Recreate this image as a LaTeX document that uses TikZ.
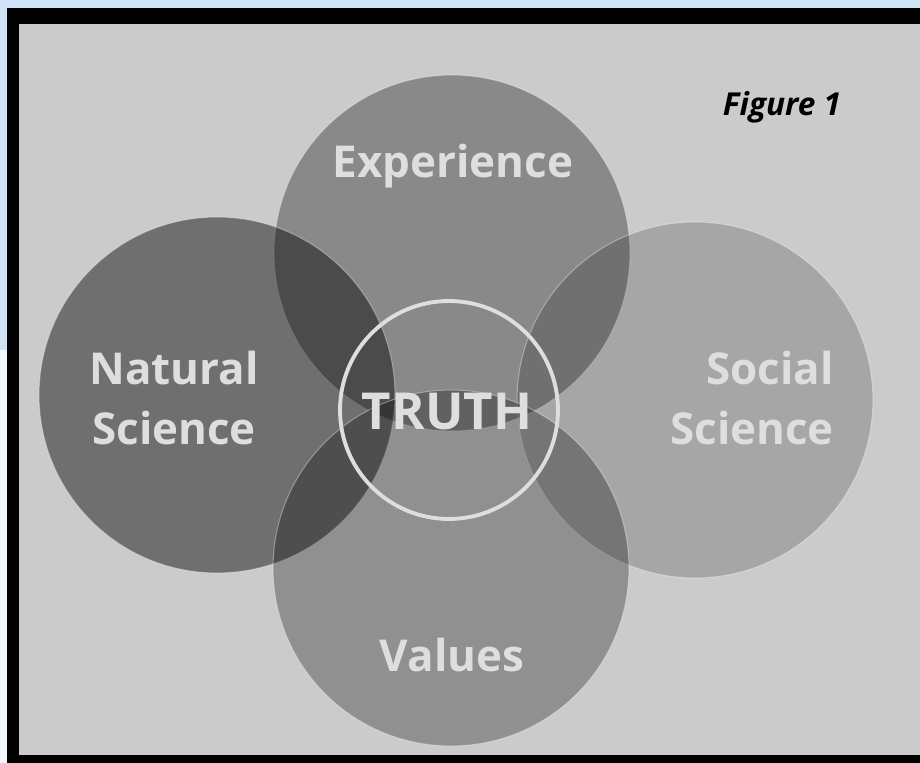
\documentclass[tikz,border=0pt]{standalone}
\usepackage{fontspec}
\setsansfont{Open Sans}
\usetikzlibrary{positioning}
\definecolor{paper}{HTML}{CBCBCB}
\definecolor{skyband}{HTML}{CFE3F7}
\definecolor{labelgray}{HTML}{DEDEDE}
\tikzset{
  area/.style={circle, minimum size=7.12cm, inner sep=0pt, fill=black, draw=white, draw opacity=0.35, line width=0.6pt},
  label/.style={font=\sffamily\bfseries\fontsize{25}{34}\selectfont, text=labelgray, align=center}
}
\begin{document}
\begin{tikzpicture}[x=0.02cm, y=-0.02cm]
    \useasboundingbox (0,0) rectangle (920,763);
    % Frame and page
    \fill[skyband] (0,0) rectangle (920,763);
    \fill[white!70!skyband] (0,350) rectangle (8,763);
    \fill[black] (7,8) rectangle (920,763);
    \fill[paper] (19,24) rectangle (920,755);

    % Four overlapping circles
    \node[area, fill opacity=0.32] (exp) at (452,253) {};
    \node[area, fill opacity=0.45] (nat) at (217,395) {};
    \node[area, fill opacity=0.18] (soc) at (695,400) {};
    \node[area, fill opacity=0.29] (val) at (451,568) {};

    % Centre ring
    \node[circle, minimum size=4.36cm, inner sep=0pt, draw=labelgray, line width=2.2pt] (truthring) at (449,410) {};

    % Add labels
    \node[label] (explabel) at (453,166) {Experience};
    \node[label] (natlabel) at (174,398) {Natural\\Science};
    \node[label, align=right] (soclabel) at (752,398) {Social\\Science};
    \node[label] (vallabel) at (452,655) {Values};
    \node[label, font=\sffamily\bfseries\fontsize{29}{32}\selectfont] (truth) at (447,412) {TRUTH};
    \node[font=\sffamily\bfseries\itshape\fontsize{18}{20}\selectfont] (figlabel) at (782,107) {Figure 1};
\end{tikzpicture}
\end{document}
